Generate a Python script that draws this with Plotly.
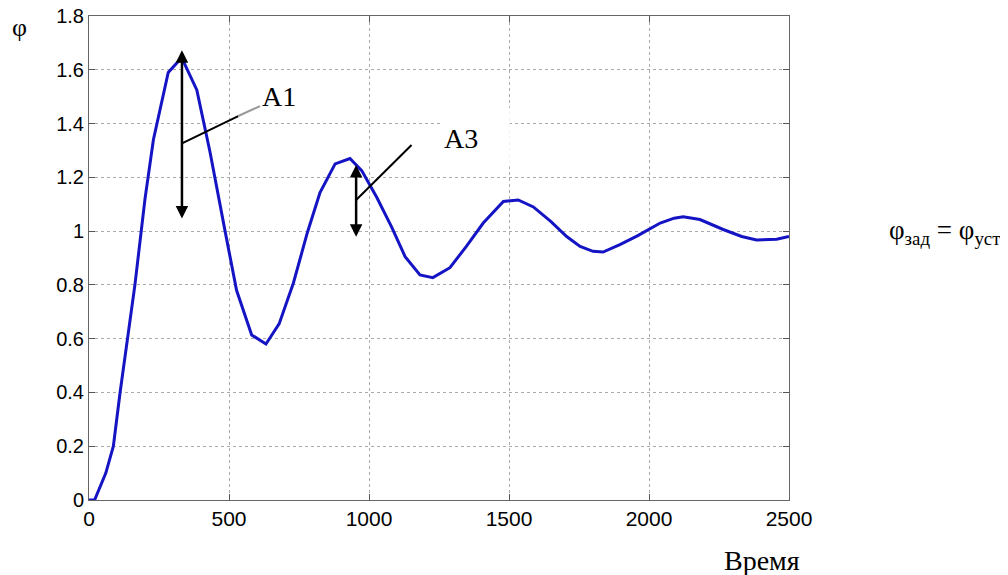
import plotly.graph_objects as go

# Data
time = [0, 20, 60, 87, 111, 138, 164, 200, 230, 283, 331, 385, 432, 486, 527, 581,
        632, 679, 730, 780, 825, 879, 932, 974, 1028, 1081, 1129, 1182, 1228, 1289,
        1349, 1408, 1480, 1533, 1587, 1650, 1706, 1754, 1800, 1836, 1896, 1960, 2005,
        2040, 2090, 2122, 2182, 2265, 2331, 2384, 2456, 2500]
phi = [0, 0, 0.1, 0.2, 0.4, 0.6, 0.8, 1.12, 1.34, 1.59, 1.645, 1.525, 1.295, 1.0,
       0.78, 0.614, 0.58, 0.655, 0.807, 0.995, 1.143, 1.25, 1.27, 1.225, 1.125, 1.015,
       0.905, 0.837, 0.827, 0.864, 0.945, 1.03, 1.11, 1.116, 1.09, 1.035, 0.98, 0.943,
       0.925, 0.922, 0.95, 0.983, 1.01, 1.03, 1.048, 1.053, 1.043, 1.006, 0.98, 0.967,
       0.97, 0.98]

x_ticks = [0, 500, 1000, 1500, 2000, 2500]
y_ticks = [0, 0.2, 0.4, 0.6, 0.8, 1, 1.2, 1.4, 1.6, 1.8]
y_tick_labels = ["0", "0.2", "0.4", "0.6", "0.8", "1", "1.2", "1.4", "1.6", "1.8"]

# Amplitude markers: (time, low, high)
a1 = (332, 1.041, 1.673)
a3 = (954, 0.973, 1.246)

SERIF = "Liberation Serif, Times New Roman, serif"
SANS = "Liberation Sans, Arial, sans-serif"

fig = go.Figure()
fig.add_trace(go.Scatter(x=time, y=phi, mode="lines",
                         line=dict(color="#1414c4", width=3), showlegend=False))

axis_common = dict(showline=True, linecolor="#666666", linewidth=1, mirror="ticks",
                   ticks="inside", ticklen=6, tickcolor="#555555",
                   showgrid=True, gridcolor="#aaaaaa", griddash="dot", gridwidth=1,
                   zeroline=False, automargin=False, ticklabeloverflow="allow")

fig.update_xaxes(range=[0, 2500], tickvals=x_ticks, ticktext=[str(v) for v in x_ticks],
                 tickfont=dict(family=SANS, size=21, color="black"), **axis_common)
fig.update_yaxes(range=[0, 1.8], tickvals=y_ticks, ticktext=y_tick_labels,
                 tickfont=dict(family=SANS, size=20, color="black"), **axis_common)

# white patch behind the A3 label
fig.add_shape(type="rect", xref="x", yref="y", x0=1257, x1=1503, y0=1.24, y1=1.46,
              fillcolor="white", line=dict(width=0), layer="above")

# double-headed arrows
for (t, lo, hi) in (a1, a3):
    fig.add_annotation(x=t, y=hi, ax=t, ay=lo, xref="x", yref="y", axref="x", ayref="y",
                       showarrow=True, arrowhead=2, arrowside="end+start", arrowsize=1,
                       arrowwidth=2.5, arrowcolor="black", text="")

# leader lines
fig.add_shape(type="line", xref="x", yref="y", x0=332, y0=1.326, x1=533, y1=1.428,
              line=dict(color="black", width=2))
fig.add_shape(type="line", xref="x", yref="y", x0=533, y0=1.428, x1=611, y1=1.465,
              line=dict(color="#999999", width=2))
fig.add_shape(type="line", xref="x", yref="y", x0=954, y0=1.116, x1=1152, y1=1.32,
              line=dict(color="black", width=2))

fig.add_annotation(x=679, y=1.499, xref="x", yref="y", text="A1", showarrow=False,
                   xanchor="center", yanchor="middle",
                   font=dict(family=SERIF, size=28, color="black"))
fig.add_annotation(x=1329, y=1.346, xref="x", yref="y", text="A3", showarrow=False,
                   xanchor="center", yanchor="middle",
                   font=dict(family=SERIF, size=28, color="black"))

fig.add_annotation(x=-0.0986, y=0.977, xref="paper", yref="paper", text="φ",
                   showarrow=False, xanchor="center", yanchor="middle",
                   font=dict(family=SERIF, size=26, color="black"))
fig.add_annotation(x=0.961, y=-0.124, xref="paper", yref="paper", text="Время",
                   showarrow=False, xanchor="center", yanchor="middle",
                   font=dict(family=SERIF, size=28, color="black"))
fig.add_annotation(x=1.222, y=0.554, xref="paper", yref="paper",
                   text="φ<sub>зад</sub> = φ<sub>уст</sub>",
                   showarrow=False, xanchor="center", yanchor="middle",
                   font=dict(family=SERIF, size=27, color="black"))

# page body has an 8px margin: shrink the figure so the plot lands at the reference position
fig.update_layout(width=1000, height=567, plot_bgcolor="white", paper_bgcolor="white",
                  margin=dict(l=81, r=219, t=8, b=75))

fig.write_html("out.html")
